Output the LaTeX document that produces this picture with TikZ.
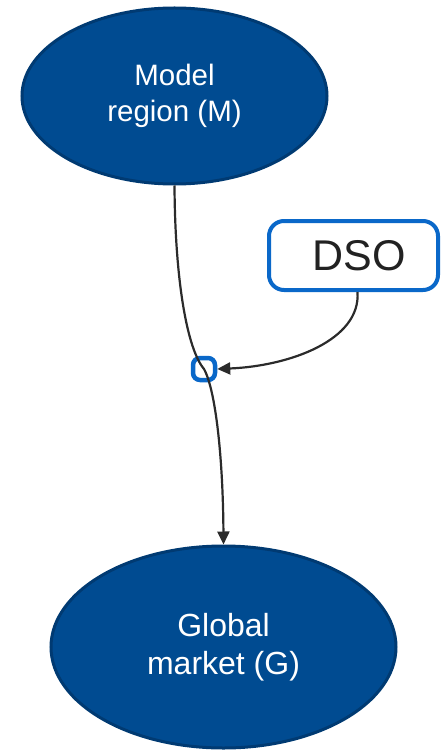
\documentclass[tikz,border=0pt]{standalone}
\usepackage{fontspec}
\setmainfont{Liberation Sans}
\usetikzlibrary{shapes.geometric,arrows.meta}
\definecolor{nodeblue}{HTML}{004B91}
\definecolor{nodeedge}{HTML}{003A72}
\definecolor{brightblue}{HTML}{0A68C9}
\definecolor{wire}{HTML}{2B2B2B}
\definecolor{labeltext}{HTML}{222222}
\tikzset{
  oval/.style={ellipse, draw=nodeedge, fill=nodeblue, line width=3pt,
    inner sep=0pt, text=white, align=center},
  agentbox/.style={draw=brightblue, line width=4pt, rounded corners=15pt,
    fill=white, inner sep=0pt, text=labeltext},
  junction/.style={draw=brightblue, line width=4.5pt, rounded corners=7pt,
    minimum width=22pt, minimum height=22pt, inner sep=0pt},
  link/.style={draw=wire, line width=2.2pt, -{Triangle[length=13pt,width=12pt]}},
}
\begin{document}
\begin{tikzpicture}[x=1pt,y=-1pt]
  \useasboundingbox (0,0) rectangle (441,751);

  % endpoints of the flow
  \node[oval, minimum width=305pt, minimum height=176pt,
        font=\fontsize{29.5}{36}\selectfont] (M) at (174.5,96) {Model\\region (M)};
  \node[oval, minimum width=345pt, minimum height=202pt,
        font=\fontsize{32}{38}\selectfont] (G) at (223.5,647) {Global\\market (G)};

  % operator box (label sits a little right of centre)
  \node[agentbox, minimum width=169pt, minimum height=69pt,
        font=\fontsize{43}{43}\selectfont] (DSO) at (353.5,255.5) {\hspace{11pt}DSO};

  % junction where the operator acts on the flow
  \node[junction] (J) at (204,369) {};

  % main flow from region to market through the junction
  \draw[link] (M.south) .. controls (175,280) and (187,349) .. (J.center)
                        .. controls (216,391) and (223,460) .. (G.north);

  % operator influence on the junction
  \draw[link] ([xshift=4pt]DSO.south) .. controls (361,340) and (290,366) .. (J.east);
\end{tikzpicture}
\end{document}
